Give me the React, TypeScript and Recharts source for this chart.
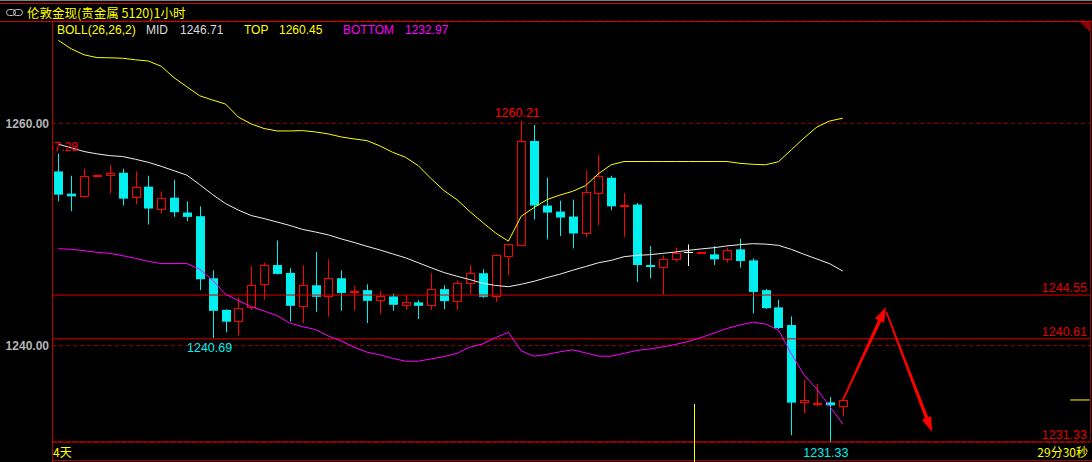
import React from "react";
import {
  ComposedChart,
  Bar,
  Line,
  XAxis,
  YAxis,
  CartesianGrid,
  ReferenceLine,
  ReferenceDot,
} from "recharts";

// 1h candles, London gold spot
const opens = [
  1255.67, 1253.67, 1253.43, 1255.25, 1255.31, 1255.55, 1253.34, 1254.3, 1252.3, 1253.31,
  1251.97, 1251.64, 1246.06, 1243.22, 1242.24, 1243.44, 1245.52, 1247.25, 1246.54, 1243.58,
  1245.43, 1244.48, 1246.06, 1244.88, 1244.99, 1244.12, 1244.42, 1243.67, 1243.89, 1243.67,
  1245.08, 1244.03, 1245.59, 1246.51, 1244.42, 1248.09, 1249.04, 1258.41, 1252.6, 1252.06,
  1251.61, 1250.15, 1253.73, 1255.1, 1252.6, 1252.69, 1247.25, 1247.07, 1247.82, 1248.42,
  1248.34, 1248.21, 1247.82, 1248.66, 1247.67, 1244.99, 1243.44, 1241.85, 1234.93, 1234.85,
  1234.9, 1234.6,
];
const highs = [
  1257.28, 1255.28, 1255.91, 1255.4, 1256.27, 1255.91, 1255.67, 1255.28, 1253.88, 1254.92,
  1252.98, 1252.53, 1246.78, 1243.25, 1244.33, 1247.16, 1247.47, 1249.46, 1246.96, 1247.22,
  1248.42, 1247.76, 1246.78, 1245.37, 1245.52, 1244.92, 1244.69, 1244.54, 1244.09, 1246.51,
  1245.43, 1245.88, 1247.22, 1246.87, 1248.21, 1249.15, 1260.21, 1259.85, 1255.1, 1253.04,
  1253.13, 1255.76, 1257.16, 1255.28, 1253.73, 1252.84, 1248.95, 1248.12, 1248.81, 1249.1,
  1248.39, 1248.95, 1248.81, 1249.62, 1247.85, 1245.08, 1244.12, 1242.63, 1236.93, 1236.57,
  1235.38, 1235.43,
];
const lows = [
  1252.98, 1252.09, 1253.34, 1255.15, 1253.67, 1252.6, 1252.69, 1250.9, 1251.88, 1251.58,
  1251.19, 1244.99, 1240.69, 1241.2, 1240.9, 1243.22, 1244.12, 1246.4, 1242.15, 1242.03,
  1243.04, 1242.6, 1243.13, 1243.13, 1242.03, 1242.84, 1243.13, 1243.22, 1242.39, 1243.2,
  1243.28, 1243.22, 1244.63, 1244.3, 1243.94, 1246.36, 1248.95, 1251.34, 1249.55, 1249.85,
  1248.75, 1249.76, 1250.81, 1252.18, 1249.76, 1245.73, 1246.06, 1244.63, 1247.52, 1247.16,
  1248.33, 1247.25, 1247.47, 1247.02, 1242.9, 1243.3, 1241.5, 1231.94, 1233.89, 1234.54,
  1231.33, 1233.64,
];
const closes = [
  1253.58, 1253.43, 1255.22, 1255.32, 1255.52, 1253.22, 1254.27, 1252.33, 1253.29, 1252.0,
  1251.58, 1245.97, 1243.13, 1242.15, 1243.35, 1245.43, 1247.22, 1246.45, 1243.58, 1245.43,
  1244.39, 1246.12, 1244.74, 1244.93, 1244.03, 1244.42, 1243.67, 1243.89, 1243.58, 1245.08,
  1244.0, 1245.61, 1246.51, 1244.39, 1248.12, 1249.1, 1258.39, 1252.6, 1251.97, 1251.52,
  1250.09, 1253.82, 1255.26, 1252.53, 1252.65, 1247.25, 1247.07, 1247.82, 1248.36, 1248.42,
  1248.38, 1247.76, 1248.57, 1247.61, 1244.83, 1243.37, 1241.58, 1234.87, 1235.14, 1234.88,
  1234.63, 1235.11,
];

// BOLL(26,26,2)
const bollTop = [
  1267.46, 1266.7, 1266.16, 1265.91, 1265.89, 1265.85, 1265.71, 1265.6, 1265.13, 1264.1,
  1263.28, 1262.47, 1262.09, 1261.73, 1260.56, 1259.94, 1259.53, 1259.31, 1259.31, 1259.34,
  1259.22, 1259.04, 1258.77, 1258.59, 1258.44, 1257.97, 1257.39, 1256.94, 1256.18, 1255.01,
  1253.94, 1253.13, 1252.06, 1251.08, 1250.13, 1249.4, 1251.64, 1252.42, 1253.13, 1253.54,
  1253.88, 1254.39, 1255.46, 1256.27, 1256.56, 1256.56, 1256.56, 1256.56, 1256.56, 1256.56,
  1256.56, 1256.56, 1256.56, 1256.4, 1256.31, 1256.27, 1256.54, 1257.61, 1258.68, 1259.67,
  1260.21, 1260.45,
];
const bollMid = [
  1258.12, 1257.79, 1257.46, 1257.25, 1257.09, 1257.01, 1256.76, 1256.49, 1256.13, 1255.73,
  1255.33, 1254.48, 1253.58, 1252.78, 1252.19, 1251.7, 1251.43, 1251.12, 1250.81, 1250.45,
  1250.22, 1249.96, 1249.6, 1249.28, 1248.93, 1248.61, 1248.25, 1247.9, 1247.45, 1247.0,
  1246.57, 1246.24, 1245.94, 1245.61, 1245.41, 1245.3, 1245.52, 1245.79, 1246.12, 1246.42,
  1246.78, 1247.11, 1247.45, 1247.67, 1248.0, 1248.12, 1248.18, 1248.3, 1248.42, 1248.57,
  1248.7, 1248.81, 1248.97, 1249.08, 1249.17, 1249.13, 1249.02, 1248.66, 1248.21, 1247.79,
  1247.36, 1246.71,
];
const bollBottom = [
  1248.72, 1248.66, 1248.54, 1248.39, 1248.3, 1248.09, 1247.85, 1247.58, 1247.38, 1247.38,
  1247.38, 1246.87, 1245.88, 1244.63, 1244.05, 1243.51, 1243.11, 1242.7, 1242.03, 1241.7,
  1241.45, 1240.87, 1240.42, 1239.86, 1239.41, 1239.17, 1238.85, 1238.6, 1238.6, 1238.81,
  1239.01, 1239.3, 1239.86, 1240.15, 1240.72, 1241.2, 1239.53, 1239.05, 1239.21, 1239.44,
  1239.62, 1239.35, 1239.05, 1239.05, 1239.3, 1239.57, 1239.7, 1239.88, 1240.11, 1240.38,
  1240.73, 1241.14, 1241.54, 1241.85, 1242.1, 1241.94, 1241.41, 1239.27, 1237.36, 1236.08,
  1234.51, 1232.97,
];

const priceTicks = [1240, 1260];
const levels = [1244.55, 1240.61];
const lowLabelIndex = 12;
// projected move: [bar index, price]
const projection = [
  [61, 1235.08],
  [64.36, 1243.47],
  [64.4, 1243.0],
  [67.94, 1232.23],
];

const RED = "#ff0000";
const LINE_RED = "#e00000";
const CYAN = "#00f0f0";
const YELLOW = "#ffff00";
const MAGENTA = "#ff00ff";
const WHITE = "#eeeeee";
const FONT = "'Liberation Sans', Arial, sans-serif";
const CJK = "'Noto Sans CJK SC', sans-serif";

const data = opens.map((o, i) => ({
  i,
  open: o,
  high: highs[i],
  low: lows[i],
  close: closes[i],
  top: bollTop[i],
  mid: bollMid[i],
  bottom: bollBottom[i],
}));

const hiIdx = highs.indexOf(Math.max(...highs));
const loIdx = lows.indexOf(Math.min(...lows));
const lastClose = closes[closes.length - 1];
const last = data.length - 1;

function Candle(props: any) {
  const { x, y, width, height, payload } = props;
  if (x == null || !payload) return null;
  const { open, close, high, low } = payload;
  const yTop = height >= 0 ? y : y + height;
  const h = Math.abs(height);
  const k = h / (high - low);
  const py = (v: number) => yTop + (high - v) * k;
  const cx = Math.round(x + width / 2);
  const wx = cx + 0.5;
  const bTop = py(Math.max(open, close));
  const bBot = py(Math.min(open, close));

  if (close < open) {
    return (
      <g>
        <line x1={wx} x2={wx} y1={py(high)} y2={py(low)} stroke={CYAN} />
        <rect x={cx - 4} y={bTop} width={9} height={Math.max(1, bBot - bTop)} fill={CYAN} />
      </g>
    );
  }
  const color = close > open ? RED : "#ffffff";
  const t = Math.round(bTop) + 0.5;
  const b = Math.max(t + 1, Math.round(bBot) + 0.5);
  return (
    <g>
      <line x1={wx} x2={wx} y1={py(high)} y2={t} stroke={color} />
      <line x1={wx} x2={wx} y1={b} y2={py(low)} stroke={color} />
      {close > open ? (
        <rect x={cx - 3.5} y={t} width={8} height={b - t} fill="#000" stroke={color} />
      ) : (
        <line x1={cx - 4} x2={cx + 5} y1={t} y2={t} stroke={color} />
      )}
    </g>
  );
}

function Arrow(p: any) {
  const { x1, y1, x2, y2 } = p;
  if (x1 == null) return null;
  const dx = x2 - x1;
  const dy = y2 - y1;
  const len = Math.hypot(dx, dy);
  const ux = dx / len;
  const uy = dy / len;
  const nx = -uy;
  const ny = ux;
  const hl = 15;
  const bx = x2 - ux * hl;
  const by = y2 - uy * hl;
  const pts = [
    [x1 + nx * 0.8, y1 + ny * 0.8],
    [bx + nx * 1.8, by + ny * 1.8],
    [bx + nx * 5, by + ny * 5],
    [x2, y2],
    [bx - nx * 5, by - ny * 5],
    [bx - nx * 1.8, by - ny * 1.8],
    [x1 - nx * 0.8, y1 - ny * 0.8],
  ];
  return <polygon points={pts.map((q) => q.join(",")).join(" ")} fill={RED} />;
}

const priceLabel = (text: string, color: string, dx: number, dy: number, anchor = "middle", clip = false) =>
  (p: any) =>
    p.cx == null ? <g /> : (
      <g clipPath={clip ? "url(#plot-left-clip)" : undefined}>
        {clip && (
          <defs>
            <clipPath id="plot-left-clip">
              <rect x={53} y={0} width={1040} height={462} />
            </clipPath>
          </defs>
        )}
        <text x={p.cx + dx} y={p.cy + dy} fill={color} fontSize={12.5} fontFamily={FONT} textAnchor={anchor}>
          {text}
        </text>
      </g>
    );

export default function App() {
  return (
    <div
      style={{
        position: "fixed",
        left: 0,
        top: 0,
        width: 1092,
        height: 462,
        background: "#000",
        overflow: "hidden",
        fontFamily: FONT,
      }}
    >
      <ComposedChart width={1092} height={462} data={data} margin={{ top: 21, right: 2, bottom: 20, left: 0 }}>
        <CartesianGrid vertical={false} stroke="#a00000" strokeDasharray="4 3" />
        <XAxis type="number" dataKey="i" domain={[-0.49, 80.23]} allowDataOverflow hide />
        <YAxis
          domain={[1231.33, 1269.2]}
          allowDataOverflow
          ticks={priceTicks}
          interval={0}
          width={52}
          tickSize={0}
          tickMargin={3}
          tickLine={false}
          axisLine={false}
          tick={{ fill: "#b4b4b4", fontSize: 12, fontWeight: "bold", fontFamily: FONT }}
          tickFormatter={(v: number) => v.toFixed(2)}
        />
        {levels.map((v) => (
          <ReferenceLine
            key={v}
            y={v}
            stroke={LINE_RED}
            label={{ value: v.toFixed(2), position: "insideBottomRight", offset: 3, fill: LINE_RED, fontSize: 12.5, fontFamily: FONT }}
          />
        ))}
        <ReferenceLine
          y={lows[loIdx]}
          stroke={LINE_RED}
          label={{ value: lows[loIdx].toFixed(2), position: "insideBottomRight", offset: 3, fill: LINE_RED, fontSize: 12.5, fontFamily: FONT }}
        />
        <Bar
          dataKey={(d: any) => [d.low, d.high]}
          barSize={9}
          shape={(p: any) => <Candle {...p} />}
          isAnimationActive={false}
        />
        <Line dataKey="top" stroke={YELLOW} strokeWidth={1} dot={false} activeDot={false} isAnimationActive={false} />
        <Line dataKey="mid" stroke={WHITE} strokeWidth={1} dot={false} activeDot={false} isAnimationActive={false} />
        <Line dataKey="bottom" stroke={MAGENTA} strokeWidth={1} dot={false} activeDot={false} isAnimationActive={false} />
        <ReferenceDot x={hiIdx} y={highs[hiIdx]} r={0} shape={priceLabel(highs[hiIdx].toFixed(2), RED, -4, -4)} />
        <ReferenceDot
          x={0}
          y={highs[0]}
          r={0}
          shape={priceLabel(highs[0].toFixed(2), RED, 20, -3, "end", true)}
        />
        <ReferenceDot
          x={lowLabelIndex}
          y={lows[lowLabelIndex]}
          r={0}
          shape={priceLabel(lows[lowLabelIndex].toFixed(2), CYAN, -3, 14)}
        />
        <ReferenceDot x={loIdx} y={lows[loIdx]} r={0} shape={priceLabel(lows[loIdx].toFixed(2), CYAN, -4, 14.5)} />
        <ReferenceLine
          segment={[{ x: 78.7, y: lastClose }, { x: 80.2, y: lastClose }]}
          stroke={YELLOW}
        />
        <ReferenceLine
          segment={[
            { x: projection[0][0], y: projection[0][1] },
            { x: projection[1][0], y: projection[1][1] },
          ]}
          shape={(p: any) => <Arrow {...p} />}
        />
        <ReferenceLine
          segment={[
            { x: projection[2][0], y: projection[2][1] },
            { x: projection[3][0], y: projection[3][1] },
          ]}
          shape={(p: any) => <Arrow {...p} />}
        />
      </ComposedChart>

      <svg
        width={1092}
        height={462}
        style={{ position: "absolute", left: 0, top: 0, pointerEvents: "none" }}
      >
        <line x1={0} x2={1092} y1={0.5} y2={0.5} stroke="#808080" />
        <line x1={0} x2={1092} y1={3.5} y2={3.5} stroke="#d00000" />
        <line x1={0} x2={1092} y1={21.5} y2={21.5} stroke="#d00000" />
        <line x1={52.5} x2={52.5} y1={21} y2={462} stroke="#c00000" />
        <line x1={1090.5} x2={1090.5} y1={21} y2={442} stroke="#900000" />
        <line x1={52} x2={1092} y1={460.5} y2={460.5} stroke="#a00000" />
        <polygon points="1080,22 1090,22 1090,32" fill="#900000" />
        <line x1={694.5} x2={694.5} y1={404} y2={462} stroke={YELLOW} />

        <rect x={6.5} y={9.5} width={9} height={6} rx={3} fill="none" stroke="#c0c0c0" />
        <rect x={13.5} y={9.5} width={9} height={6} rx={3} fill="none" stroke="#c0c0c0" />
        <text x={27} y={18} fill={YELLOW} fontSize={12.5} fontFamily={CJK}>
          伦敦金现(贵金属 5120)1小时
        </text>

        <g fontSize={12} fontFamily={FONT}>
          <text x={57} y={34} fill={YELLOW}>BOLL(26,26,2)</text>
          <text x={146} y={34} fill="#dcdcdc">MID</text>
          <text x={180} y={34} fill="#dcdcdc">{bollMid[last].toFixed(2)}</text>
          <text x={244} y={34} fill={YELLOW}>TOP</text>
          <text x={279} y={34} fill={YELLOW}>{bollTop[last].toFixed(2)}</text>
          <text x={343} y={34} fill={MAGENTA}>BOTTOM</text>
          <text x={405} y={34} fill={MAGENTA}>{bollBottom[last].toFixed(2)}</text>
        </g>

        <text x={53} y={457} fill={YELLOW} fontSize={12} fontFamily={CJK}>
          4天
        </text>
        <text x={1088} y={457} fill={YELLOW} fontSize={12} fontFamily={CJK} textAnchor="end">
          29分30秒
        </text>
      </svg>
    </div>
  );
}
